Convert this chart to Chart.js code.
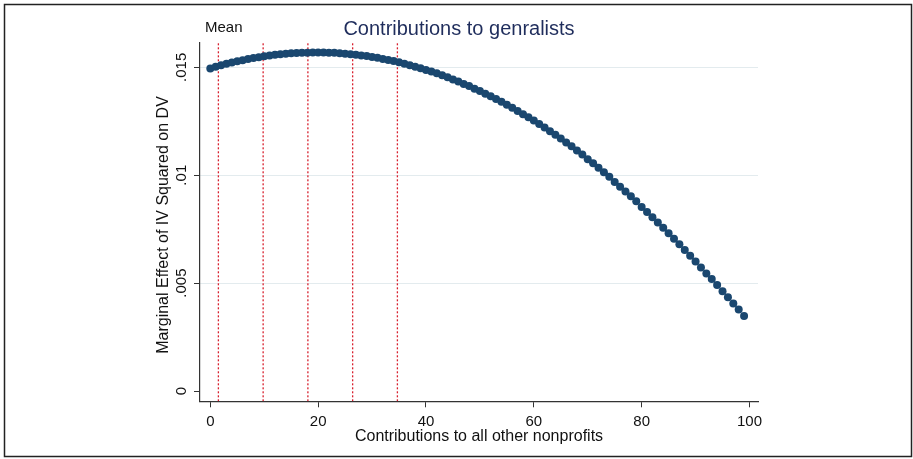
<!DOCTYPE html>
<html>
<head>
<meta charset="utf-8">
<script src="https://cdn.jsdelivr.net/npm/chart.js@4.4.1/dist/chart.umd.min.js"></script>
<style>
  html, body { margin: 0; padding: 0; background: #fff; }
  #wrap { position: relative; width: 913px; height: 459px; }
</style>
</head>
<body>
<div id="wrap"><canvas id="myChart" width="913" height="459"></canvas></div>
<script>
// contributions to all other nonprofits (x) and marginal effect (y)
const contributions = [
    0, 1, 2, 3, 4, 5, 6, 7, 8, 9,
    10, 11, 12, 13, 14, 15, 16, 17, 18, 19,
    20, 21, 22, 23, 24, 25, 26, 27, 28, 29,
    30, 31, 32, 33, 34, 35, 36, 37, 38, 39,
    40, 41, 42, 43, 44, 45, 46, 47, 48, 49,
    50, 51, 52, 53, 54, 55, 56, 57, 58, 59,
    60, 61, 62, 63, 64, 65, 66, 67, 68, 69,
    70, 71, 72, 73, 74, 75, 76, 77, 78, 79,
    80, 81, 82, 83, 84, 85, 86, 87, 88, 89,
    90, 91, 92, 93, 94, 95, 96, 97, 98, 99
]
const marginalEffect = [
    0.01495, 0.01502, 0.01509, 0.01516, 0.01522, 0.01528, 0.01533, 0.01538, 0.01543, 0.01547,
    0.01551, 0.01555, 0.01558, 0.01561, 0.01563, 0.01565, 0.01566, 0.01568, 0.01568, 0.01569,
    0.01569, 0.01569, 0.01568, 0.01567, 0.01565, 0.01563, 0.01561, 0.01558, 0.01555, 0.01552,
    0.01548, 0.01544, 0.01539, 0.01534, 0.01529, 0.01523, 0.01517, 0.01510, 0.01503, 0.01496,
    0.01488, 0.01480, 0.01472, 0.01463, 0.01454, 0.01444, 0.01434, 0.01423, 0.01413, 0.01401,
    0.01390, 0.01378, 0.01366, 0.01353, 0.01340, 0.01326, 0.01312, 0.01298, 0.01283, 0.01268,
    0.01253, 0.01237, 0.01221, 0.01204, 0.01187, 0.01170, 0.01152, 0.01134, 0.01115, 0.01096,
    0.01074, 0.01055, 0.01034, 0.01014, 0.00993, 0.00968, 0.00946, 0.00924, 0.00902, 0.00879,
    0.00853, 0.00829, 0.00805, 0.00781, 0.00756, 0.00731, 0.00706, 0.00680, 0.00653, 0.00627,
    0.00600, 0.00572, 0.00544, 0.00519, 0.00491, 0.00462, 0.00435, 0.00406, 0.00378, 0.00348
]
// mean and +/- 1, 2 sd reference lines
const meanLines = [1.5, 9.8, 18.1, 26.4, 34.7]

const xTicks = [0, 20, 40, 60, 80, 100]
const yTicks = [0, 0.005, 0.01, 0.015]
const yTickLabels = ['0', '.005', '.01', '.015']

const chartTitle = 'Contributions to genralists'
const meanLabel = 'Mean'
const xTitle = 'Contributions to all other nonprofits'
const yTitle = 'Marginal Effect of IV Squared on DV'

const xMin = -1.91
const xMax = 101.58
const yMin = -0.000477
const yMax = 0.01614

const FONT = '"Liberation Sans", Arial, Helvetica, sans-serif'
const navy = '#1a476f'
const refRed = '#d8202e'

const curvePoints = contributions.map((c, i) => ({ x: c, y: marginalEffect[i] }))

const lineSets = meanLines.map(v => ({
    type: 'line',
    data: [{ x: v, y: yMin }, { x: v, y: yMax }],
    borderColor: refRed,
    borderWidth: 1.3,
    borderDash: [2, 2],
    pointRadius: 0,
    fill: false
}))

const textPlugin = {
    id: 'stataText',
    beforeDraw(chart) {
        const ctx = chart.ctx
        ctx.save()
        ctx.fillStyle = '#fff'
        ctx.fillRect(0, 0, chart.width, chart.height)
        ctx.restore()
    },
    afterDraw(chart) {
        const ctx = chart.ctx
        const area = chart.chartArea
        const yScale = chart.scales.y
        ctx.save()

        // outer frame
        ctx.strokeStyle = '#222'
        ctx.lineWidth = 1.5
        ctx.strokeRect(4.5, 4.5, 907, 452)

        // title
        ctx.fillStyle = '#1f2d5c'
        ctx.font = '20px ' + FONT
        ctx.textAlign = 'center'
        ctx.textBaseline = 'middle'
        ctx.fillText(chartTitle, 459, 29)

        // mean label
        ctx.fillStyle = '#111'
        ctx.font = '15px ' + FONT
        ctx.textAlign = 'left'
        ctx.fillText(meanLabel, 205, 28)

        // x axis title
        ctx.font = '16px ' + FONT
        ctx.textAlign = 'center'
        ctx.fillText(xTitle, (area.left + area.right) / 2, 437)

        // y tick labels, rotated
        ctx.font = '15px ' + FONT
        yTicks.forEach((v, i) => {
            ctx.save()
            ctx.translate(182, yScale.getPixelForValue(v))
            ctx.rotate(-Math.PI / 2)
            ctx.textAlign = 'center'
            ctx.textBaseline = 'middle'
            ctx.fillText(yTickLabels[i], 0, 0)
            ctx.restore()
        })

        // y axis title
        ctx.font = '16px ' + FONT
        ctx.translate(163.5, (area.top + area.bottom) / 2 + 3)
        ctx.rotate(-Math.PI / 2)
        ctx.textAlign = 'center'
        ctx.textBaseline = 'middle'
        ctx.fillText(yTitle, 0, 0)

        ctx.restore()
    }
}

let myChart = document.getElementById('myChart').getContext('2d')

let effectChart = new Chart(myChart, {
    type: 'scatter',
    data: {
        datasets: [{
            label: 'Marginal effect',
            data: curvePoints,
            backgroundColor: navy,
            borderColor: navy,
            borderWidth: 0,
            pointRadius: 4,
            showLine: false
        }, ...lineSets]
    },
    options: {
        responsive: false,
        animation: false,
        events: [],
        layout: {
            padding: { left: 0, top: 42.7, right: 155, bottom: 0 }
        },
        plugins: {
            legend: { display: false },
            title: { display: false },
            tooltip: { enabled: false }
        },
        scales: {
            x: {
                type: 'linear',
                min: xMin,
                max: xMax,
                afterBuildTicks: s => { s.ticks = xTicks.map(v => ({ value: v })) },
                afterFit: s => { s.height = 459 - 401.3 },
                ticks: {
                    color: '#111',
                    font: { family: FONT, size: 15 },
                    padding: 6,
                    maxRotation: 0,
                    callback: v => String(v)
                },
                grid: {
                    drawOnChartArea: false,
                    drawTicks: true,
                    tickLength: 6,
                    tickColor: '#333',
                    tickWidth: 1
                },
                border: { display: true, color: '#333', width: 1.2 }
            },
            y: {
                type: 'linear',
                min: yMin,
                max: yMax,
                afterBuildTicks: s => { s.ticks = yTicks.map(v => ({ value: v })) },
                afterFit: s => { s.width = 200 },
                ticks: { display: false },
                grid: {
                    color: ctx => (ctx.tick && ctx.tick.value === 0) ? 'rgba(0,0,0,0)' : '#e3ebee',
                    lineWidth: 1,
                    drawTicks: true,
                    tickLength: 6,
                    tickColor: '#333',
                    tickWidth: 1
                },
                border: { display: true, color: '#333', width: 1.2 }
            }
        }
    },
    plugins: [textPlugin]
})
</script>
</body>
</html>
